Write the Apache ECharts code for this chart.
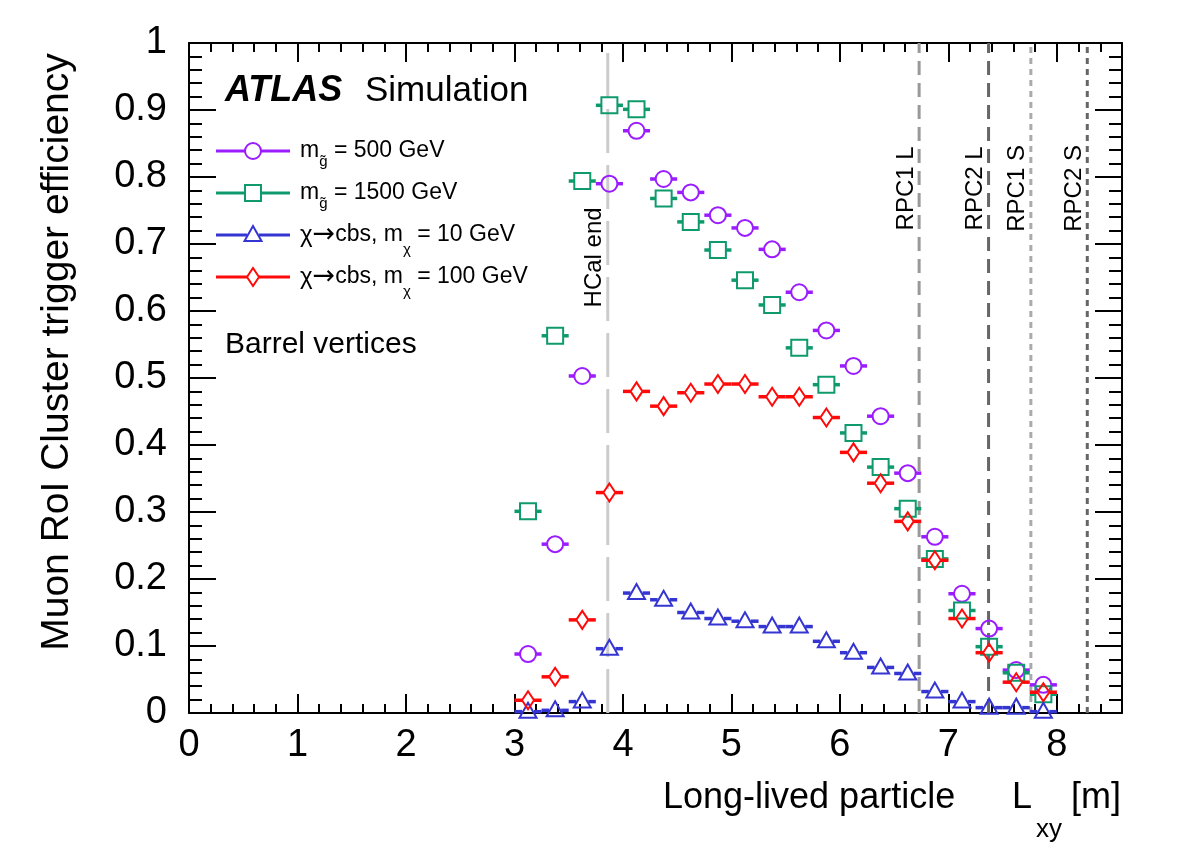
<!DOCTYPE html>
<html lang="en">
  <head>
    <meta charset="UTF-8" />
    <title>Muon RoI Cluster trigger efficiency</title>
    <script src="https://cdn.jsdelivr.net/npm/echarts@6/dist/echarts.min.js"></script>
    <style>
      html, body { margin: 0; padding: 0; background: #fff; }
      #chart { width: 1182px; height: 850px; }
    </style>
  </head>
  <body>
    <div id="chart"></div>
    <script>
      // bins of 0.25 m, centres in metres
      const binCenters = [3.125, 3.375, 3.625, 3.875, 4.125, 4.375, 4.625, 4.875, 5.125, 5.375,
                          5.625, 5.875, 6.125, 6.375, 6.625, 6.875, 7.125, 7.375, 7.625, 7.875];
      const binHalfWidth = 0.125;

      const effGluino500 = [0.088, 0.252, 0.503, 0.790, 0.869, 0.797, 0.777, 0.743, 0.724, 0.692,
                            0.628, 0.571, 0.518, 0.443, 0.358, 0.263, 0.178, 0.126, 0.064, 0.042];
      const effGluino1500 = [0.301, 0.563, 0.794, 0.907, 0.901, 0.768, 0.733, 0.691, 0.646, 0.609,
                             0.545, 0.490, 0.418, 0.367, 0.305, 0.230, 0.153, 0.099, 0.060, 0.028];
      const effChi10 = [0.002, 0.004, 0.017, 0.096, 0.179, 0.169, 0.150, 0.141, 0.137, 0.129,
                        0.129, 0.107, 0.090, 0.068, 0.059, 0.032, 0.017, 0.008, 0.008, 0.002];
      const effChi100 = [0.019, 0.054, 0.139, 0.329, 0.480, 0.458, 0.478, 0.491, 0.491, 0.472,
                         0.472, 0.441, 0.389, 0.343, 0.286, 0.228, 0.141, 0.090, 0.046, 0.031];

      // detector boundaries (m) and where their labels sit (efficiency units)
      const detectorNames = ["HCal end", "RPC1 L", "RPC2 L", "RPC1 S", "RPC2 S"];
      const detectorPos = [3.86, 6.73, 7.37, 7.76, 8.28];
      const detectorLabelY = [0.68, 0.783, 0.783, 0.783, 0.783];

      const xTicks = [0, 1, 2, 3, 4, 5, 6, 7, 8];

      // styling
      const FONT = '"Liberation Sans", Arial, Helvetica, sans-serif';
      const SYM = '"DejaVu Sans", sans-serif';
      const detStyle = [
        { color: "#cccccc", dash: [44, 12] },
        { color: "#999999", dash: [14, 8] },
        { color: "#666666", dash: [14, 8] },
        { color: "#aaaaaa", dash: [6, 5] },
        { color: "#666666", dash: [6, 5] },
      ];
      const COL = { g500: "#9b1cff", g1500: "#0f9a6e", c10: "#3535d2", c100: "#ff0a0a" };

      const ctx = document.createElement("canvas").getContext("2d");
      function tw(t, size, fam) {
        ctx.font = size + "px " + (fam || FONT);
        return ctx.measureText(t).width;
      }
      // a line of text made of pieces [text, size, dy, family]
      function textRun(x, y, parts) {
        const out = [];
        let cx = x;
        parts.forEach((p) => {
          const fam = p[3] || FONT;
          out.push({
            type: "text", x: cx, y: y + (p[2] || 0),
            style: { text: p[0], font: p[1] + "px " + fam, fill: "#000", align: "left", verticalAlign: "middle" },
          });
          cx += tw(p[0], p[1], fam);
        });
        return out;
      }

      function markerShape(kind, cx, cy, color) {
        const st = { fill: "none", stroke: color, lineWidth: 2 };
        if (kind === "circle") return { type: "circle", shape: { cx, cy, r: 8 }, style: st };
        if (kind === "square") return { type: "rect", shape: { x: cx - 8, y: cy - 8, width: 16, height: 16 }, style: st };
        if (kind === "triangle")
          return { type: "polygon", shape: { points: [[cx, cy - 9], [cx - 8.5, cy + 6], [cx + 8.5, cy + 6]] }, style: st };
        return { type: "polygon", shape: { points: [[cx, cy - 9], [cx + 6, cy], [cx, cy + 9], [cx - 6, cy]] }, style: st };
      }
      const GAP = { circle: 8, square: 8, triangle: 6, diamond: 6 };

      function effSeries(name, values, kind, color) {
        return {
          name, type: "custom", coordinateSystem: "cartesian2d", xAxisIndex: 0, yAxisIndex: 0,
          data: binCenters.map((x, i) => [x, values[i]]),
          z: 5,
          renderItem(params, api) {
            const x = api.value(0), y = api.value(1);
            const c = api.coord([x, y]);
            const l = api.coord([x - binHalfWidth, y]);
            const r = api.coord([x + binHalfWidth, y]);
            const g = GAP[kind];
            const bar = { stroke: color, lineWidth: 3.5 };
            return {
              type: "group",
              children: [
                { type: "line", shape: { x1: l[0], y1: c[1], x2: c[0] - g, y2: c[1] }, style: bar },
                { type: "line", shape: { x1: c[0] + g, y1: c[1], x2: r[0], y2: c[1] }, style: bar },
                markerShape(kind, c[0], c[1], color),
              ],
            };
          },
        };
      }

      // legend drawn by hand
      const chiParts = (mass) => [["\u03c7", 24], ["\u2192", 27, 0, SYM], ["cbs, m", 23], ["\u03c7", 15, 15], [" = " + mass + " GeV", 23]];
      const legendRows = [
        { kind: "circle", color: COL.g500, y: 151, parts: [["m", 23], ["g\u0303", 15, 11], [" = 500 GeV", 23]] },
        { kind: "square", color: COL.g1500, y: 193, parts: [["m", 23], ["g\u0303", 15, 11], [" = 1500 GeV", 23]] },
        { kind: "triangle", color: COL.c10, y: 235, parts: chiParts("10") },
        { kind: "diamond", color: COL.c100, y: 277, parts: chiParts("100") },
      ];
      const graphics = [];
      legendRows.forEach((row) => {
        const g = GAP[row.kind];
        graphics.push({ type: "line", shape: { x1: 216, y1: row.y, x2: 253 - g, y2: row.y }, style: { stroke: row.color, lineWidth: 3 } });
        graphics.push({ type: "line", shape: { x1: 253 + g, y1: row.y, x2: 290, y2: row.y }, style: { stroke: row.color, lineWidth: 3 } });
        graphics.push(markerShape(row.kind, 253, row.y, row.color));
        textRun(300, row.y, row.parts).forEach((t) => graphics.push(t));
      });
      graphics.push({
        type: "text", x: 225, y: 91,
        style: { text: "ATLAS", font: "italic bold 36px " + FONT, fill: "#000", align: "left", verticalAlign: "middle" },
      });
      graphics.push({
        type: "text", x: 365, y: 91,
        style: { text: "Simulation", font: "35px " + FONT, fill: "#000", align: "left", verticalAlign: "middle" },
      });
      graphics.push({
        type: "text", x: 225, y: 345,
        style: { text: "Barrel vertices", font: "30px " + FONT, fill: "#000", align: "left", verticalAlign: "middle" },
      });
      graphics.push({
        type: "text", x: 57, y: 352, rotation: Math.PI / 2,
        style: { text: "Muon RoI Cluster trigger efficiency", font: "39px " + FONT, fill: "#000", align: "center", verticalAlign: "middle" },
      });
      graphics.push({
        type: "text", x: 663, y: 798,
        style: { text: "Long-lived particle", font: "36px " + FONT, fill: "#000", align: "left", verticalAlign: "middle" },
      });
      graphics.push({
        type: "text", x: 1012, y: 798,
        style: { text: "L", font: "36px " + FONT, fill: "#000", align: "left", verticalAlign: "middle" },
      });
      graphics.push({
        type: "text", x: 1036, y: 830,
        style: { text: "xy", font: "26px " + FONT, fill: "#000", align: "left", verticalAlign: "middle" },
      });
      graphics.push({
        type: "text", x: 1121, y: 798,
        style: { text: "[m]", font: "36px " + FONT, fill: "#000", align: "right", verticalAlign: "middle" },
      });

      const rect = { left: 189, top: 43, width: 933, height: 670 };
      const black = { color: "#000", width: 2 };
      const labelFont = { fontFamily: FONT, fontSize: 38, color: "#000" };

      const majorX = (pos, labels) => ({
        gridIndex: 0, type: "value", position: pos, min: 0, max: 8.6, interval: 1,
        axisLine: { show: true, onZero: false, lineStyle: black },
        axisTick: { show: true, inside: true, length: 19, lineStyle: black },
        axisLabel: labels
          ? Object.assign({ show: true, margin: 14, customValues: xTicks, formatter: (v) => String(Math.round(v)) }, labelFont)
          : { show: false },
        splitLine: { show: false },
      });
      const minorX = (pos) => ({
        gridIndex: 1, type: "value", position: pos, min: 0, max: 8.6, interval: 0.2,
        axisLine: { show: false },
        axisTick: { show: true, inside: true, length: 9, lineStyle: black },
        axisLabel: { show: false },
        splitLine: { show: false },
      });
      const yAx = (pos, labels) => ({
        gridIndex: 0, type: "value", position: pos, min: 0, max: 1, interval: 0.1,
        axisLine: { show: true, onZero: false, lineStyle: black },
        axisTick: { show: true, inside: true, length: 27, lineStyle: black },
        minorTick: { show: true, splitNumber: 5, length: 13, lineStyle: black },
        axisLabel: labels
          ? Object.assign({ show: true, margin: 22, formatter: (v) => String(Math.round(v * 10) / 10) }, labelFont)
          : { show: false },
        splitLine: { show: false },
      });

      const chart = echarts.init(document.getElementById("chart"), null, { renderer: "canvas" });
      chart.setOption({
        animation: false,
        backgroundColor: "#fff",
        textStyle: { fontFamily: FONT },
        grid: [
          Object.assign({ outerBoundsMode: "none", containLabel: false }, rect),
          Object.assign({ outerBoundsMode: "none", containLabel: false }, rect),
        ],
        xAxis: [majorX("bottom", true), majorX("top", false), minorX("bottom"), minorX("top")],
        yAxis: [yAx("left", true), yAx("right", false), { gridIndex: 1, show: false, min: 0, max: 1 }],
        graphic: graphics,
        series: [
          {
            name: "detectors", type: "custom", coordinateSystem: "cartesian2d", xAxisIndex: 0, yAxisIndex: 0,
            data: detectorPos.map((x) => [x, 0]),
            z: 2,
            renderItem(params, api) {
              const i = params.dataIndex;
              const x = api.value(0);
              const b = api.coord([x, 0]);
              const t = api.coord([x, 1]);
              const lab = api.coord([x, detectorLabelY[i]]);
              return {
                type: "group",
                children: [
                  {
                    type: "line", shape: { x1: b[0], y1: b[1], x2: t[0], y2: t[1] },
                    style: { stroke: detStyle[i].color, lineWidth: 3, lineDash: detStyle[i].dash },
                  },
                  {
                    type: "text", x: lab[0] - 13, y: lab[1], rotation: Math.PI / 2,
                    style: { text: detectorNames[i], font: "24px " + FONT, fill: "#000", align: "center", verticalAlign: "middle" },
                  },
                ],
              };
            },
          },
          effSeries("m_g 500", effGluino500, "circle", COL.g500),
          effSeries("m_g 1500", effGluino1500, "square", COL.g1500),
          effSeries("chi 10", effChi10, "triangle", COL.c10),
          effSeries("chi 100", effChi100, "diamond", COL.c100),
        ],
      });
    </script>
  </body>
</html>
